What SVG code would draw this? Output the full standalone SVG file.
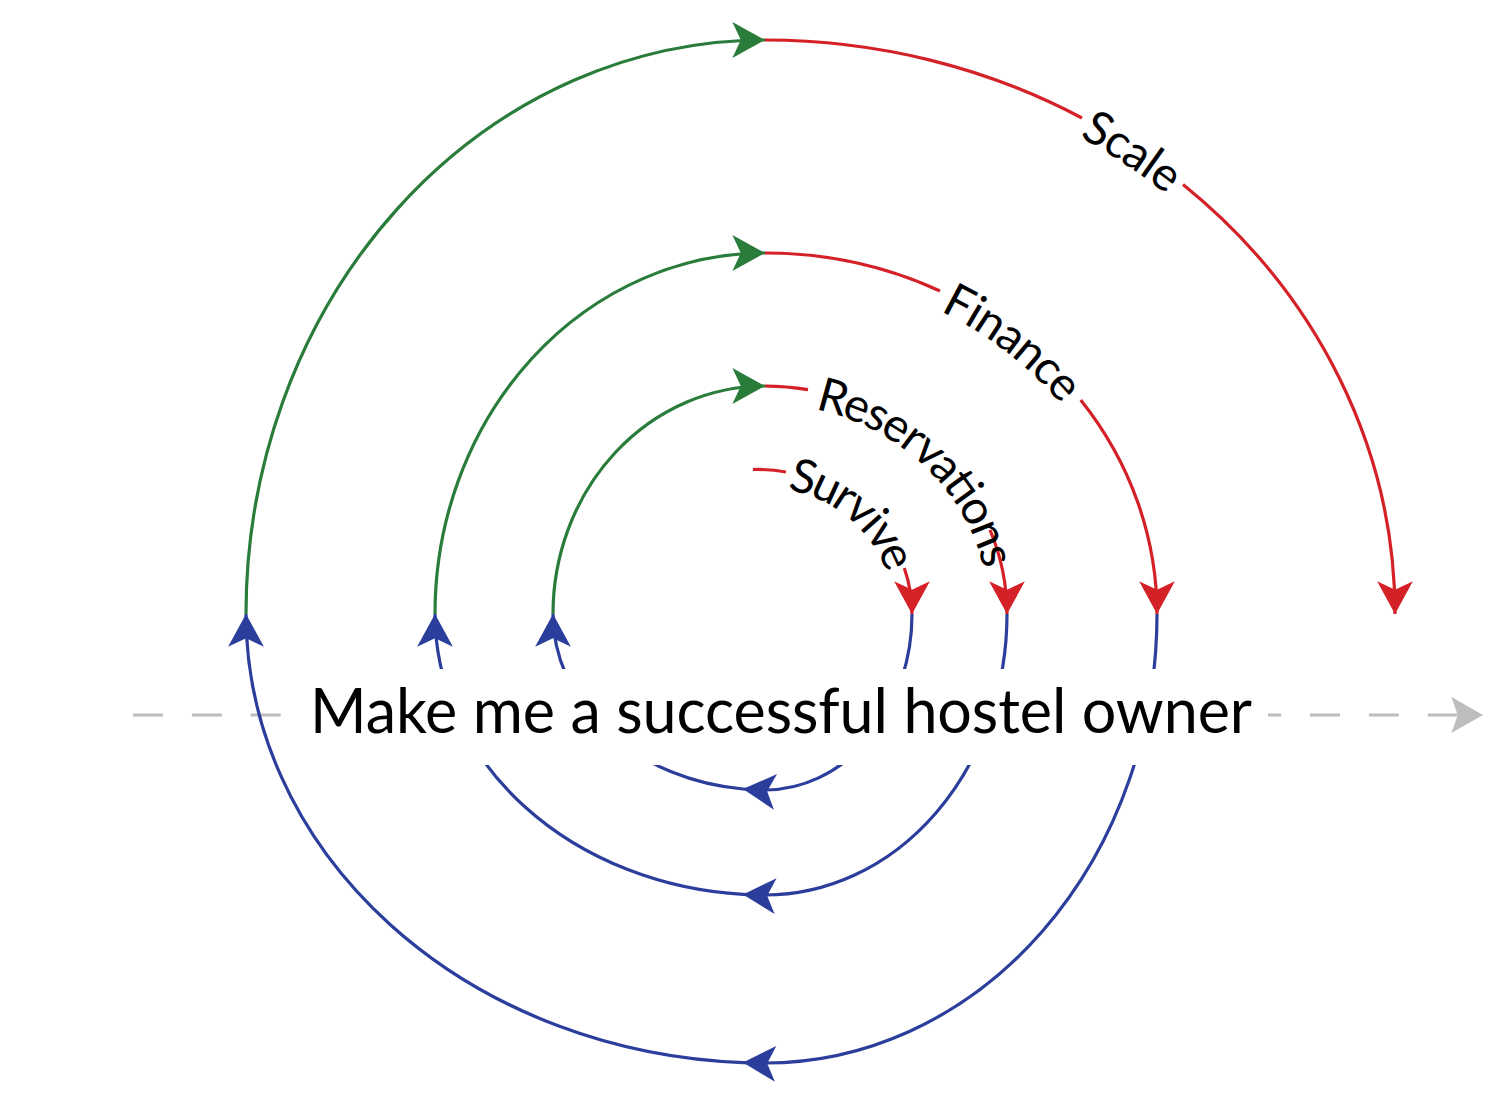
<svg xmlns="http://www.w3.org/2000/svg" width="1500" height="1108" viewBox="0 0 1500 1108">
<style>
  .c { fill: none; stroke-width: 3.2; }
  .r { stroke: #d42128; }
  .g { stroke: #2a7c3a; }
  .b { stroke: #2c3e9c; }
  .rm { marker-end: url(#mr); }
  .gm { marker-end: url(#mg); }
  .bm { marker-end: url(#mb); }
  .dash { fill: none; stroke: #bdbdbd; stroke-width: 3; stroke-dasharray: 30 28.85; marker-end: url(#mgr); }
  .lbl { font-family: Lato, "Open Sans", "DejaVu Sans", sans-serif; font-size: 47px; fill: #000; dominant-baseline: central; }
  .main { font-family: Lato, "Open Sans", "DejaVu Sans", sans-serif; font-size: 61px; fill: #000; }
</style>
<defs>
  <marker id="mr" markerUnits="userSpaceOnUse" markerWidth="40" markerHeight="40" viewBox="-33 -19 36 38" refX="0" refY="0" orient="auto" overflow="visible"><path d="M0,0 L-31,-17 L-23,0 L-31,17 Z" fill="#d42128"/></marker>
  <marker id="mg" markerUnits="userSpaceOnUse" markerWidth="40" markerHeight="40" viewBox="-33 -19 36 38" refX="0" refY="0" orient="auto" overflow="visible"><path d="M0,0 L-31,-17 L-23,0 L-31,17 Z" fill="#2a7c3a"/></marker>
  <marker id="mb" markerUnits="userSpaceOnUse" markerWidth="40" markerHeight="40" viewBox="-33 -19 36 38" refX="0" refY="0" orient="auto" overflow="visible"><path d="M0,0 L-31,-17 L-23,0 L-31,17 Z" fill="#2c3e9c"/></marker>
  <marker id="mgr" markerUnits="userSpaceOnUse" markerWidth="40" markerHeight="40" viewBox="-33 -19 36 38" refX="0" refY="0" orient="auto" overflow="visible"><path d="M0,0 L-30,-17 L-24,0 L-30,17 Z" fill="#bdbdbd"/></marker>
  <path id="tpS" d="M786,471.5 A147,144 0 0 1 912,614"/>
  <path id="tpR" d="M808,389.6 A242,228 0 0 1 1007,614"/>
  <path id="tpF" d="M940,291 A392,361 0 0 1 1080.7,400"/>
  <path id="tpSc" d="M1082,118 A630,574 0 0 1 1183,184.5"/>
</defs>
<rect width="1500" height="1108" fill="#fff"/>

<g id="connectors">
  <path class="dash" d="M133,715 L1483,715"/>
  <!-- loop 0 -->
  <path class="c r" d="M753,469.5 Q770,469 786,472"/>
  <path class="c r rm" d="M904.3,568 A147,144 0 0 1 912,614"/>
  <path class="c b bm" d="M912,614 A147,176 0 0 1 765,790 A212,176 0 0 1 743,789"/>
  <path class="c b bm" d="M743,789 A212,176 0 0 1 553,614"/>
  <path class="c g gm" d="M553,614 A212,228 0 0 1 765,386"/>
  <!-- loop 1 -->
  <path class="c r" d="M765,386 A242,228 0 0 1 808,389.6"/>
  <path class="c r rm" d="M990,530 A242,228 0 0 1 1007,614"/>
  <path class="c b bm" d="M1007,614 A242,281 0 0 1 765,895 A330,281 0 0 1 743,894.4"/>
  <path class="c b bm" d="M743,894.4 A330,281 0 0 1 435,614"/>
  <path class="c g gm" d="M435,614 A330,361 0 0 1 765,253"/>
  <!-- loop 2 -->
  <path class="c r" d="M765,253 A392,361 0 0 1 940,291"/>
  <path class="c r rm" d="M1080.7,400 A392,361 0 0 1 1157,614"/>
  <path class="c b bm" d="M1157,614 A392,449 0 0 1 765,1063 A519,449 0 0 1 743,1062.6"/>
  <path class="c b bm" d="M743,1062.6 A519,449 0 0 1 246,614"/>
  <path class="c g gm" d="M246,614 A519,574 0 0 1 765,40"/>
  <!-- loop 3 -->
  <path class="c r" d="M765,40 A630,574 0 0 1 1082,118"/>
  <path class="c r rm" d="M1183,184.5 A630,574 0 0 1 1395,614"/>
</g>

<g id="goal">
  <rect x="282" y="669" width="986" height="96" fill="#fff"/>
  <text class="main" x="310" y="733" textLength="942">Make me a successful hostel owner</text>
</g>

<g id="labels">
  <text id="survive" class="lbl"><textPath href="#tpS" startOffset="6">Survive</textPath></text>
  <text id="reservations" class="lbl"><textPath href="#tpR" startOffset="12">Reservations</textPath></text>
  <text id="finance" class="lbl" text-anchor="middle"><textPath href="#tpF" startOffset="50%">Finance</textPath></text>
  <text id="scale" class="lbl" text-anchor="middle"><textPath href="#tpSc" startOffset="50%">Scale</textPath></text>
</g>
</svg>
